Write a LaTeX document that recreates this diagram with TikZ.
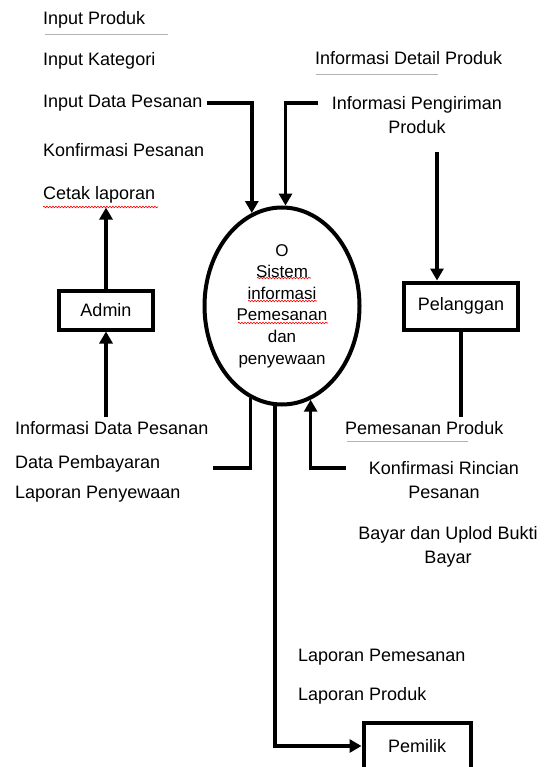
\documentclass[tikz,border=0pt]{standalone}
\usepackage{fontspec}
\setmainfont{Liberation Sans}
\usetikzlibrary{arrows.meta,shapes.geometric,decorations.pathmorphing}

\begin{document}
\begin{tikzpicture}[x=1pt,y=-1pt,
  lbl/.style={anchor=west,inner sep=4pt,font=\fontsize{18}{22}\selectfont},
  lblc/.style={align=center,inner sep=4pt,font=\fontsize{18}{24}\selectfont},
  ent/.style={draw,line width=4pt,inner sep=0pt,font=\fontsize{18}{22}\selectfont},
  flow/.style={line width=3.5pt,-{Triangle[width=13pt,length=12pt]}},
  flowline/.style={line width=3.5pt},
  uline/.style={gray!60,line width=1pt},
  spell/.style={red,line width=0.6pt,decorate,decoration={snake,amplitude=0.8pt,segment length=3pt}}]
\useasboundingbox (0,0) rectangle (547,767);

\node[lbl] (ip) at (39,20) {Input Produk};
\node[lbl] (ik) at (39,61) {Input Kategori};
\node[lbl] (idp) at (39,103) {Input Data Pesanan};
\node[lbl] (kp) at (39,150) {Konfirmasi Pesanan};
\node[lbl] (cl) at (39,195) {Cetak laporan};
\draw[uline] (45,35) -- (168,35);

\node[lbl] (idet) at (311,58) {Informasi Detail Produk};
\draw[uline] (316,75) -- (438,75);
\node[lblc] (ipp) at (417,115) {Informasi Pengiriman\\Produk};

\node[ellipse,draw,line width=4pt,minimum width=155pt,minimum height=197pt,
  inner sep=0pt,align=center,font=\fontsize{17}{21.6}\selectfont] (sys) at (282,306)
  {O\\Sistem\\informasi\\Pemesanan\\dan\\penyewaan};

\node[ent,minimum width=94pt,minimum height=39pt] (admin) at (106,310) {Admin};
\node[ent,minimum width=114pt,minimum height=47pt] (pel) at (461,306) {Pelanggan};
\node[ent,minimum width=107pt,minimum height=46pt] (pem) at (417,746) {Pemilik};

\node[lbl] (idps) at (11,428) {Informasi Data Pesanan};
\node[lbl] (dp) at (11,464) {Data Pembayaran};
\node[lbl] (lpy) at (11,494) {Laporan Penyewaan};

\node[lbl] (pp) at (341,428) {Pemesanan Produk};
\draw[uline] (347,441) -- (468,441);
\node[lblc] (krp) at (444,480) {Konfirmasi Rincian\\Pesanan};
\node[lblc] (bub) at (448,547) {Bayar dan Uplod Bukti\\Bayar};

\node[lbl] (lpm) at (294,657) {Laporan Pemesanan};
\node[lbl] (lpr) at (294,696) {Laporan Produk};

% spelling marks
\draw[spell] (43,207) -- (158,207);
\draw[spell] (257,278) -- (311,278);
\draw[spell] (248,301) -- (317,301);
\draw[spell] (238,323) -- (328,323);

% flows
\coordinate (ippstart) at (318,103);
\coordinate (pelin) at (437,152);
\coordinate (dpstart) at (213,468);
\coordinate (krpstart) at (346,468);

\draw[flow] (idp.east) -| (sys.108);
\draw[flow] (ippstart) -| (sys.88);
\draw[flow] (pelin) -- (pelin |- pel.north);
\draw[flowline] (pel.south) -- (pel.south |- pp.north);
\draw[flow] (admin.north) -- (admin.north |- cl.south);
\draw[flow] (admin.south |- idps.north) -- (admin.south);
\draw[flowline] (dpstart) -| (sys.251);
\draw[flow] (krpstart) -| (sys.287);
\draw[flow] (sys.266) |- (pem.west);

\end{tikzpicture}
\end{document}
